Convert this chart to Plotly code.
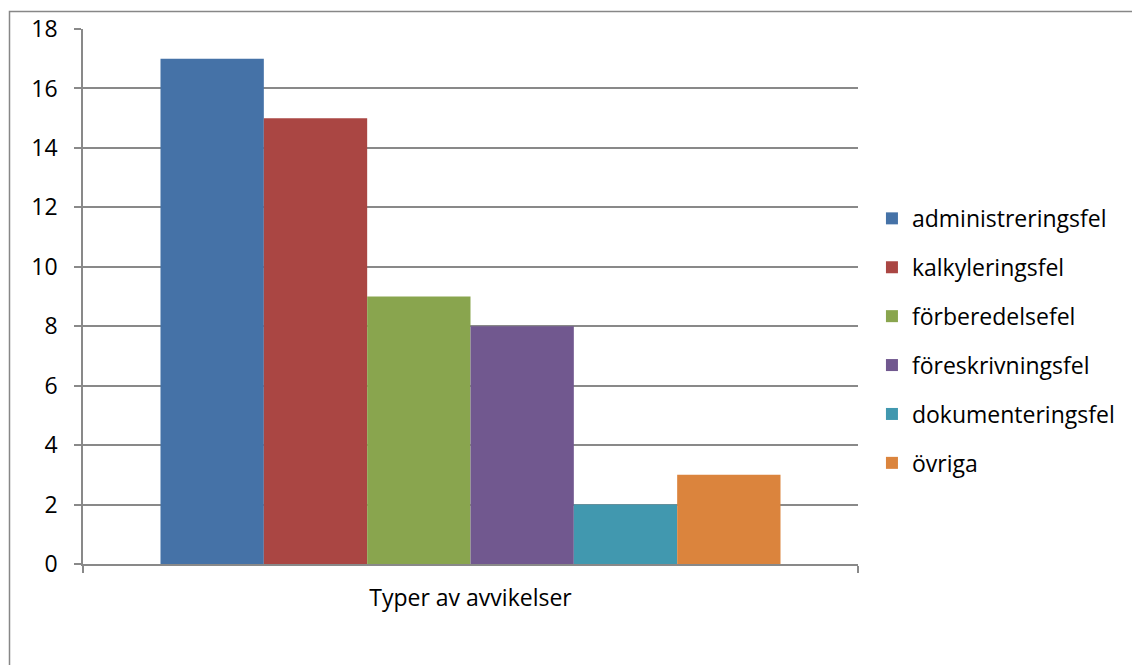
import plotly.graph_objects as go

# Data
category = ["Typer av avvikelser"]
series_names = [
    "administreringsfel",
    "kalkyleringsfel",
    "förberedelsefel",
    "föreskrivningsfel",
    "dokumenteringsfel",
    "övriga",
]
series_values = [17, 15, 9, 8, 2, 3]
series_colors = ["#4572A7", "#AA4643", "#89A54E", "#71588F", "#4198AF", "#DB843D"]
y_ticks = [0, 2, 4, 6, 8, 10, 12, 14, 16, 18]

FONT = "Open Sans"
FSIZE = 23
GRID = "#898989"

fig = go.Figure()
for i, (name, val, col) in enumerate(zip(series_names, series_values, series_colors)):
    fig.add_trace(go.Bar(
        x=category,
        y=[val],
        name=name,
        marker=dict(color=col, line=dict(width=0)),
        legendgroup=f"g{i}",
    ))

fig.update_layout(
    width=1132,
    height=665,
    margin=dict(l=83, r=274, t=29, b=101),
    paper_bgcolor="white",
    plot_bgcolor="white",
    barmode="group",
    bargap=0.2,
    bargroupgap=0,
    font=dict(family=FONT, size=FSIZE, color="#000000"),
    legend=dict(
        x=1.018,
        xanchor="left",
        y=0.417,
        yanchor="middle",
        font=dict(family=FONT, size=FSIZE, color="#000000"),
        tracegroupgap=16,
        bgcolor="rgba(0,0,0,0)",
    ),
    xaxis=dict(
        type="category",
        showgrid=False,
        showline=True,
        linecolor=GRID,
        linewidth=1.5,
        ticks="outside",
        tickson="boundaries",
        ticklen=7,
        tickcolor=GRID,
        tickwidth=1.5,
        ticklabelstandoff=13,
        tickfont=dict(family=FONT, size=FSIZE),
    ),
    yaxis=dict(
        range=[0, 18],
        tickvals=y_ticks,
        showgrid=True,
        gridcolor=GRID,
        gridwidth=1.5,
        showline=True,
        linecolor=GRID,
        linewidth=1.5,
        ticks="outside",
        ticklen=7,
        tickcolor=GRID,
        tickwidth=1.5,
        ticklabelstandoff=12,
        tickfont=dict(family=FONT, size=FSIZE),
        zeroline=False,
    ),
    shapes=[
        # chart-area frame
        dict(
            type="rect",
            xref="paper", yref="paper",
            x0=(9.5 - 83) / 775, x1=(1150 - 83) / 775,
            y0=(564 - 690) / 535, y1=(564 - 11.5) / 535,
            line=dict(color="#878787", width=1.5),
            fillcolor="rgba(0,0,0,0)",
            layer="below",
        )
    ],
)

fig.write_html("out.html")
